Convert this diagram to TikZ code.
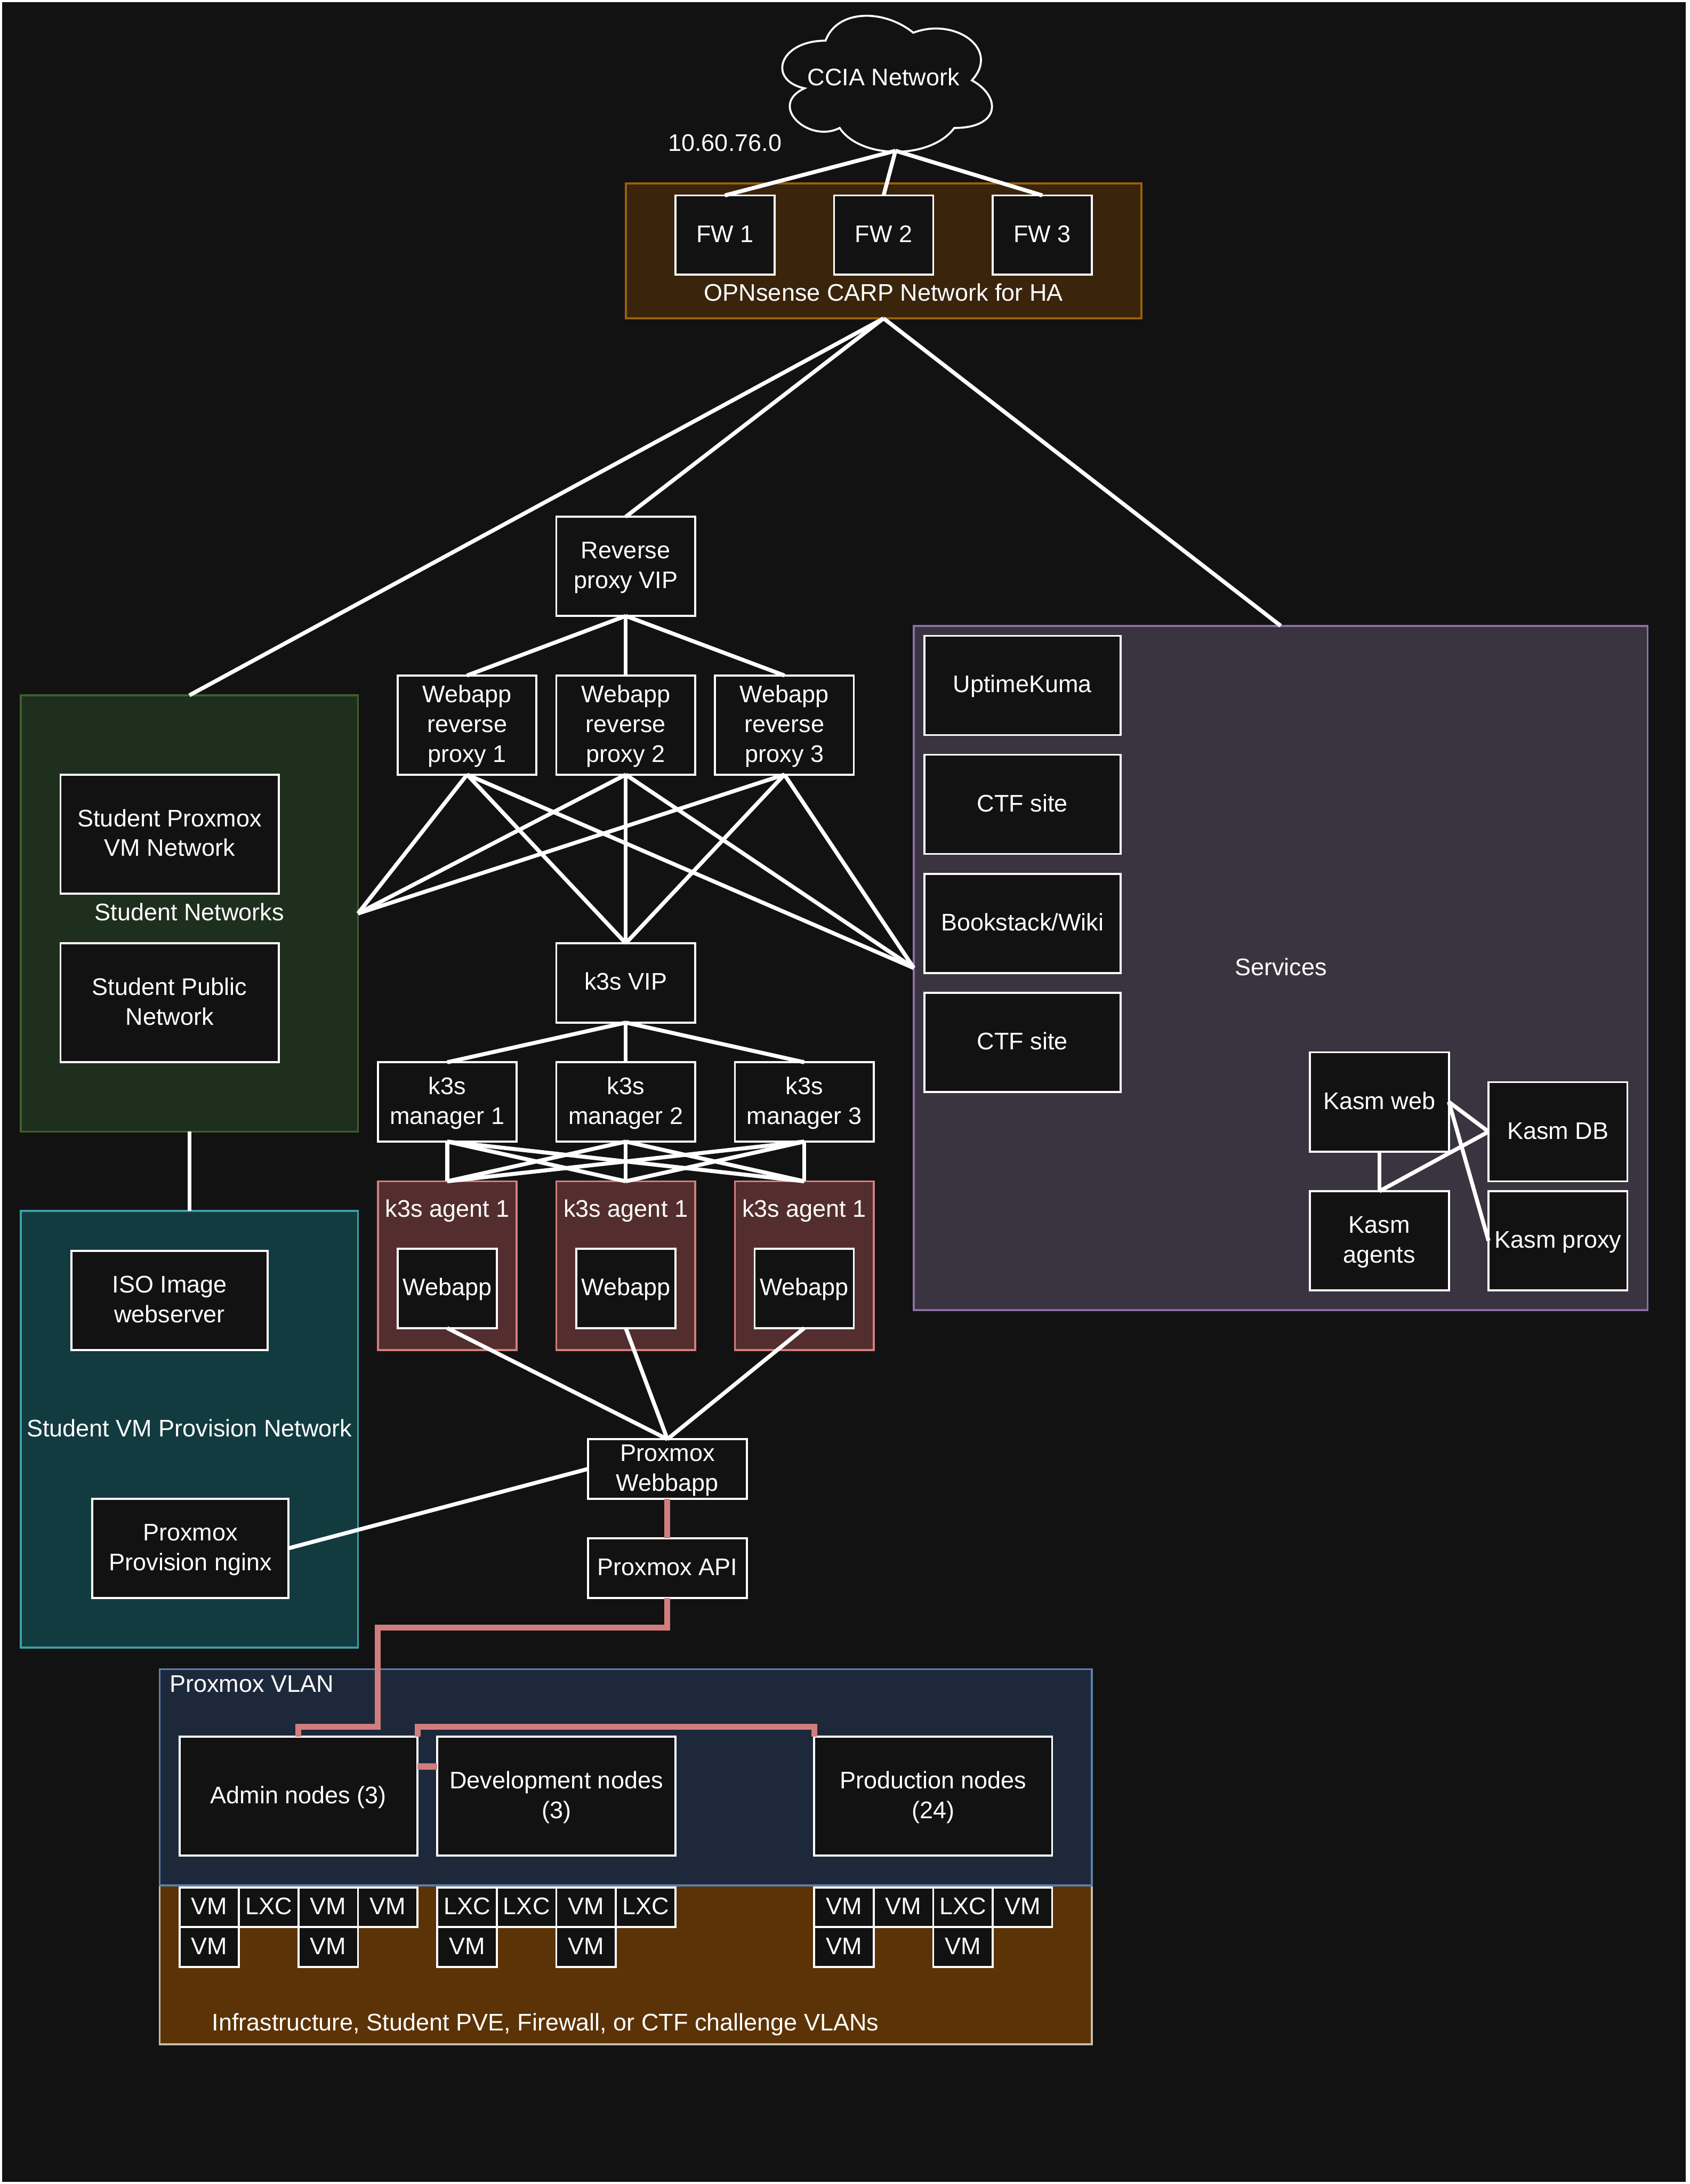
\documentclass[tikz,border=0pt]{standalone}
\usepackage{fontspec}
\setmainfont{Liberation Sans}
\usetikzlibrary{positioning,calc}
\definecolor{Canvas}{HTML}{121212}
\definecolor{CarpFill}{HTML}{3A240C}
\definecolor{CarpEdge}{HTML}{99600A}
\definecolor{GreenFill}{HTML}{1F2F1E}
\definecolor{GreenEdge}{HTML}{3F5F2B}
\definecolor{TealFill}{HTML}{123B40}
\definecolor{TealEdge}{HTML}{3AA0A8}
\definecolor{AgentFill}{HTML}{542E2E}
\definecolor{AgentEdge}{HTML}{D27D7D}
\definecolor{VlanFill}{HTML}{1D293B}
\definecolor{VlanEdge}{HTML}{5E7FAA}
\definecolor{GuestFill}{HTML}{5C3306}
\definecolor{GuestEdge}{HTML}{C4BCAE}
\definecolor{PurpleFill}{HTML}{3A3340}
\definecolor{PurpleEdge}{HTML}{8A6FA5}
\tikzset{
  every node/.style={text=white, font=\fontsize{12.1}{15}\selectfont, outer sep=0pt, inner sep=0pt, text height=9pt, text depth=1.7pt},
  twolines/.style={text height=24pt},
  threelines/.style={text height=39pt},
  hostbox/.style={draw=white, line width=1pt, fill=Canvas, align=center, minimum width=#1},
  hostbox/.default=70pt,
  guestcell/.style={draw=white, line width=1pt, fill=Canvas, minimum width=30pt, minimum height=20pt},
  zone/.style={line width=1pt, align=center, minimum width=#1},
  textnote/.style={align=center},
  link/.style={draw=white, line width=2pt},
  proxlink/.style={draw=AgentEdge, line width=3pt}
}
\begin{document}
\begin{tikzpicture}[x=1pt, y=-1pt, node distance=30pt]
  \useasboundingbox (0,0) rectangle (852,1101);
  \fill[white] (0,0) rectangle (852,1101);
  \fill[Canvas] (1,1) rectangle (850,1100);

  % zones
  \node[zone=260pt, fill=CarpFill, draw=CarpEdge, minimum height=68pt] (carpzone) at (445.5,126.5) {};
  \node[zone=170pt, fill=GreenFill, draw=GreenEdge, minimum height=220pt] (studentzone) at (95.5,460.5) {Student Networks};
  \node[zone=170pt, fill=TealFill, draw=TealEdge, minimum height=220pt] (provisionzone) at (95.5,720.5) {Student VM Provision Network};
  \node[zone=370pt, fill=PurpleFill, draw=PurpleEdge, minimum height=345pt] (serviceszone) at (645.75,488) {Services};
  \node[zone=470pt, fill=GuestFill, draw=GuestEdge, minimum height=80pt] (guestzone) at (315.5,990.5) {};
  \node[zone=470pt, fill=VlanFill, draw=VlanEdge, minimum height=109pt] (vlanzone) at (315.5,896) {};

  % cloud
  \draw[draw=white, line width=1pt, fill=Canvas, x=118pt, y=-80pt, shift={(386.75pt,-0.5pt)}]
    (0.25,0.25) .. controls (0.05,0.25) and (0,0.5) .. (0.16,0.55)
    .. controls (0,0.66) and (0.18,0.9) .. (0.31,0.8)
    .. controls (0.4,1) and (0.7,1) .. (0.8,0.8)
    .. controls (1,0.8) and (1,0.6) .. (0.875,0.5)
    .. controls (1,0.3) and (0.8,0.1) .. (0.625,0.2)
    .. controls (0.5,0.05) and (0.3,0.05) .. (0.25,0.25) -- cycle;
  \node[textnote] (ccianet) at (445.5,39.5) {CCIA Network};
  \coordinate (cloudbase) at (451.5,76);
  \node[textnote] (cloudaddr) at (365.5,72.5) {10.60.76.0};

  % firewalls
  \node[hostbox=50pt, minimum height=40pt] (fwone) at (365.5,118.5) {FW 1};
  \node[hostbox=50pt, minimum height=40pt, right=of fwone] (fwtwo) {FW 2};
  \node[hostbox=50pt, minimum height=40pt, right=of fwtwo] (fwthree) {FW 3};
  \node[textnote] (carplabel) at (445.5,148) {OPNsense CARP Network for HA};

  % reverse proxies
  \node[hostbox, twolines, minimum height=50pt] (proxyvip) at (315.5,285.5) {Reverse\\proxy VIP};
  \node[hostbox, threelines, minimum height=50pt, below=of proxyvip] (rptwo) {Webapp\\reverse\\proxy 2};
  \node[hostbox, threelines, minimum height=50pt, left=10pt of rptwo] (rpone) {Webapp\\reverse\\proxy 1};
  \node[hostbox, threelines, minimum height=50pt, right=10pt of rptwo] (rpthree) {Webapp\\reverse\\proxy 3};

  % student networks
  \node[hostbox=110pt, twolines, minimum height=60pt] (studentvm) at (85.5,420.5) {Student Proxmox\\VM Network};
  \node[hostbox=110pt, twolines, minimum height=60pt] (studentpub) at (85.5,505.5) {Student Public\\Network};
  \node[hostbox=99pt, twolines, minimum height=50pt] (isoserver) at (85.5,655.5) {ISO Image\\webserver};
  \node[hostbox=99pt, twolines, minimum height=50pt] (provnginx) at (96,780.5) {Proxmox\\Provision nginx};

  % k3s
  \node[hostbox, minimum height=40pt] (k3svip) at (315.5,495.5) {k3s VIP};
  \node[hostbox, twolines, minimum height=40pt, below=20pt of k3svip] (mgrtwo) {k3s\\manager 2};
  \node[hostbox, twolines, minimum height=40pt, left=20pt of mgrtwo] (mgrone) {k3s\\manager 1};
  \node[hostbox, twolines, minimum height=40pt, right=20pt of mgrtwo] (mgrthree) {k3s\\manager 3};
  \node[hostbox, draw=AgentEdge, fill=AgentFill, minimum height=85pt, below=20pt of mgrone] (agentone) {};
  \node[hostbox, draw=AgentEdge, fill=AgentFill, minimum height=85pt, below=20pt of mgrtwo] (agenttwo) {};
  \node[hostbox, draw=AgentEdge, fill=AgentFill, minimum height=85pt, below=20pt of mgrthree] (agentthree) {};
  \node[textnote] (agentonetext) at (225.5,610) {k3s agent 1};
  \node[textnote] (agenttwotext) at (315.5,610) {k3s agent 1};
  \node[textnote] (agentthreetext) at (405.5,610) {k3s agent 1};
  \node[hostbox=50pt, minimum height=40pt] (webappone) at (225.5,649.5) {Webapp};
  \node[hostbox=50pt, minimum height=40pt] (webapptwo) at (315.5,649.5) {Webapp};
  \node[hostbox=50pt, minimum height=40pt] (webappthree) at (405.5,649.5) {Webapp};

  % proxmox
  \node[hostbox=80pt, twolines, minimum height=30pt] (proxwebapp) at (336.5,740.5) {Proxmox\\Webbapp};
  \node[hostbox=80pt, minimum height=30pt, below=20pt of proxwebapp] (proxapi) {Proxmox API};
  \node[textnote, anchor=west] (vlanlabel) at (85.5,849.5) {Proxmox VLAN};
  \node[hostbox=120pt, minimum height=60pt] (adminnodes) at (150.5,905.5) {Admin nodes (3)};
  \node[hostbox=120pt, twolines, minimum height=60pt, right=10pt of adminnodes] (devnodes) {Development nodes\\(3)};
  \node[hostbox=120pt, twolines, minimum height=60pt] (prodnodes) at (470.5,905.5) {Production nodes\\(24)};

  % guests
  \node[guestcell] (adminA) at (105.5,961.5) {VM};
  \node[guestcell, right=0pt of adminA] (adminB) {LXC};
  \node[guestcell, right=0pt of adminB] (adminC) {VM};
  \node[guestcell, right=0pt of adminC] (adminD) {VM};
  \node[guestcell, below=0pt of adminA] (adminE) {VM};
  \node[guestcell, below=0pt of adminC] (adminF) {VM};
  \node[guestcell] (devA) at (235.5,961.5) {LXC};
  \node[guestcell, right=0pt of devA] (devB) {LXC};
  \node[guestcell, right=0pt of devB] (devC) {VM};
  \node[guestcell, right=0pt of devC] (devD) {LXC};
  \node[guestcell, below=0pt of devA] (devE) {VM};
  \node[guestcell, below=0pt of devC] (devF) {VM};
  \node[guestcell] (prodA) at (425.5,961.5) {VM};
  \node[guestcell, right=0pt of prodA] (prodB) {VM};
  \node[guestcell, right=0pt of prodB] (prodC) {LXC};
  \node[guestcell, right=0pt of prodC] (prodD) {VM};
  \node[guestcell, below=0pt of prodA] (prodE) {VM};
  \node[guestcell, below=0pt of prodC] (prodF) {VM};
  \node[textnote] (guestlabel) at (275,1020) {Infrastructure, Student PVE, Firewall, or CTF challenge VLANs};

  % services
  \node[hostbox=99pt, minimum height=50pt] (uptime) at (515.5,345.5) {UptimeKuma};
  \node[hostbox=99pt, minimum height=50pt, below=10pt of uptime] (ctfone) {CTF site};
  \node[hostbox=99pt, minimum height=50pt, below=10pt of ctfone] (bookstack) {Bookstack/Wiki};
  \node[hostbox=99pt, minimum height=50pt, below=10pt of bookstack] (ctftwo) {CTF site};
  \node[hostbox, minimum height=50pt] (kasmweb) at (695.5,555.5) {Kasm web};
  \node[hostbox, minimum height=50pt] (kasmdb) at (785.5,570.5) {Kasm DB};
  \node[hostbox, twolines, minimum height=50pt] (kasmagents) at (695.5,625.5) {Kasm\\agents};
  \node[hostbox, minimum height=50pt] (kasmproxy) at (785.5,625.5) {Kasm proxy};

  % connectors
  \draw[link] (cloudbase) -- (fwone.north);
  \draw[link] (cloudbase) -- (fwtwo.north);
  \draw[link] (cloudbase) -- (fwthree.north);
  \draw[link] (carpzone.south) -- (studentzone.north);
  \draw[link] (carpzone.south) -- (proxyvip.north);
  \draw[link] (carpzone.south) -- (serviceszone.north);
  \draw[link] (proxyvip.south) -- (rpone.north);
  \draw[link] (proxyvip.south) -- (rptwo.north);
  \draw[link] (proxyvip.south) -- (rpthree.north);
  \draw[link] (rpone.south) -- (studentzone.east);
  \draw[link] (rptwo.south) -- (studentzone.east);
  \draw[link] (rpthree.south) -- (studentzone.east);
  \draw[link] (rpone.south) -- (k3svip.north);
  \draw[link] (rptwo.south) -- (k3svip.north);
  \draw[link] (rpthree.south) -- (k3svip.north);
  \draw[link] (rpone.south) -- (serviceszone.west);
  \draw[link] (rptwo.south) -- (serviceszone.west);
  \draw[link] (rpthree.south) -- (serviceszone.west);
  \draw[link] (k3svip.south) -- (mgrone.north);
  \draw[link] (k3svip.south) -- (mgrtwo.north);
  \draw[link] (k3svip.south) -- (mgrthree.north);
  \draw[link] (mgrone.south) -- (agentone.north);
  \draw[link] (mgrone.south) -- (agenttwo.north);
  \draw[link] (mgrone.south) -- (agentthree.north);
  \draw[link] (mgrtwo.south) -- (agentone.north);
  \draw[link] (mgrtwo.south) -- (agenttwo.north);
  \draw[link] (mgrtwo.south) -- (agentthree.north);
  \draw[link] (mgrthree.south) -- (agentone.north);
  \draw[link] (mgrthree.south) -- (agenttwo.north);
  \draw[link] (mgrthree.south) -- (agentthree.north);
  \draw[link] (webappone.south) -- (proxwebapp.north);
  \draw[link] (webapptwo.south) -- (proxwebapp.north);
  \draw[link] (webappthree.south) -- (proxwebapp.north);
  \draw[link] (studentzone.south) -- (provisionzone.north);
  \draw[link] (provnginx.east) -- (proxwebapp.west);
  \draw[link] (kasmweb.east) -- (kasmdb.west);
  \draw[link] (kasmweb.east) -- (kasmproxy.west);
  \draw[link] (kasmweb.south) -- (kasmagents.north);
  \draw[link] (kasmagents.north) -- (kasmdb.west);

  \draw[proxlink] (proxwebapp.south) -- (proxapi.north);
  \draw[proxlink] (proxapi.south) -- ++(0,15) -- (190.5,820.5) -- (190.5,870.5) -| (adminnodes.north);
  \draw[proxlink] (adminnodes.north east) -- ++(0,-5) -| (prodnodes.north west);
  \draw[proxlink] ($(adminnodes.north east)+(0,15)$) -- ($(devnodes.north west)+(0,15)$);
\end{tikzpicture}
\end{document}
